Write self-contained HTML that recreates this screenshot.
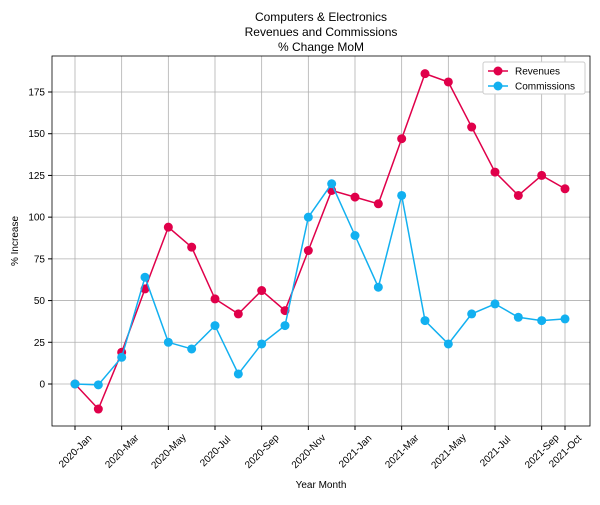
<!DOCTYPE html>
<html><head><meta charset="utf-8"><style>
body{margin:0;background:#fff;font-family:"Liberation Sans","DejaVu Sans",sans-serif;}
svg text{font-family:"Liberation Sans","DejaVu Sans",sans-serif;}
</style></head><body>
<svg id="chart" width="600" height="500" xmlns="http://www.w3.org/2000/svg">
<rect width="600" height="500" fill="#fff"/>
<text x="321" y="21" text-anchor="middle" font-size="12">Computers &amp; Electronics</text>
<text x="321" y="36" text-anchor="middle" font-size="12">Revenues and Commissions</text>
<text x="321" y="51" text-anchor="middle" font-size="12">% Change MoM</text>
<g id="grid"></g><g id="series"></g><g id="axes"></g>
<text x="321" y="488" text-anchor="middle" font-size="10">Year Month</text>
<text x="0" y="0" transform="translate(18,241) rotate(-90)" text-anchor="middle" font-size="10">% Increase</text>
<g>
<rect x="483" y="62" width="102" height="32" fill="#fff" stroke="#ccc" rx="2"/>
<line x1="488" y1="71" x2="508" y2="71" stroke="#e0004a" stroke-width="1.5"/><circle cx="498" cy="71" r="4.5" fill="#e0004a"/>
<text x="515" y="74.5" font-size="10">Revenues</text>
<line x1="488" y1="86" x2="508" y2="86" stroke="#12b0f0" stroke-width="1.5"/><circle cx="498" cy="86" r="4.5" fill="#12b0f0"/>
<text x="515" y="89.5" font-size="10">Commissions</text>
</g>
</svg>
<script>
const months=["2020-Jan","2020-Feb","2020-Mar","2020-Apr","2020-May","2020-Jun","2020-Jul","2020-Aug","2020-Sep","2020-Oct","2020-Nov","2020-Dec","2021-Jan","2021-Feb","2021-Mar","2021-Apr","2021-May","2021-Jun","2021-Jul","2021-Aug","2021-Sep","2021-Oct"];
const revenues=[0,-15,19,57,94,82,51,42,56,44,80,116,112,108,147,186,181,154,127,113,125,117];
const commissions=[0,-0.5,16,64,25,21,35,6,24,35,100,120,89,58,113,38,24,42,48,40,38,39];
const xTickLabels=["2020-Jan","2020-Mar","2020-May","2020-Jul","2020-Sep","2020-Nov","2021-Jan","2021-Mar","2021-May","2021-Jul","2021-Sep","2021-Oct"];
const yTicks=[0,25,50,75,100,125,150,175];
const L=52,R=590,T=56,B=426;
const NS="http://www.w3.org/2000/svg";
const x=i=>75+i*(490/(months.length-1));
const y=v=>384-v*(292/175);
function mk(tag,attrs,parent){const e=document.createElementNS(NS,tag);for(const k in attrs)e.setAttribute(k,attrs[k]);document.getElementById(parent).appendChild(e);return e;}
yTicks.forEach(t=>{
 const g=mk("line",{x1:L,x2:R,y1:y(t),y2:y(t),stroke:"#b0b0b0","stroke-width":0.8},"grid");
 
 
 mk("line",{x1:L-4,x2:L,y1:y(t),y2:y(t),stroke:"#000"},"axes");
 const tx=mk("text",{x:L-7,y:y(t)+3.5,"text-anchor":"end","font-size":10},"axes");tx.textContent=t;
 
 
});
xTickLabels.forEach(lab=>{
 const i=months.indexOf(lab);const xx=x(i);
 const g=mk("line",{x1:xx,x2:xx,y1:T,y2:B,stroke:"#b0b0b0","stroke-width":0.8},"grid");
 
 
 mk("line",{x1:xx,x2:xx,y1:B,y2:B+4,stroke:"#000"},"axes");
 const cy=B+25;
 const tx=mk("text",{x:xx,y:cy+3.5,"text-anchor":"middle","font-size":10,transform:`rotate(-45 ${xx} ${cy})`},"axes");tx.textContent=lab;
 
 
});
const frame=mk("rect",{x:L,y:T,width:R-L,height:B-T,fill:"none",stroke:"#000","stroke-width":0.8},"axes");


function series(vals,color,name){
 const p=mk("polyline",{points:vals.map((v,i)=>x(i)+","+y(v)).join(" "),fill:"none",stroke:color,"stroke-width":1.5},"series");
 
 
 vals.forEach((v,i)=>{const c=mk("circle",{cx:x(i),cy:y(v),r:4.5,fill:color},"series");
 
 });
}
series(revenues,"#e0004a","revenues");
series(commissions,"#12b0f0","commissions");
</script>
</body></html>
